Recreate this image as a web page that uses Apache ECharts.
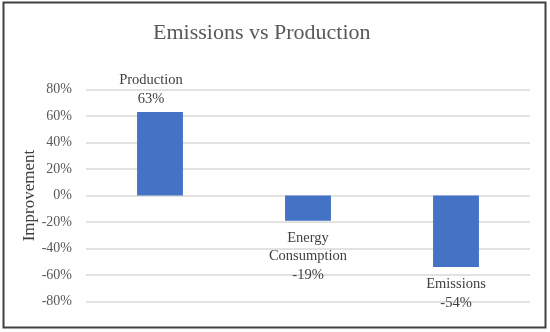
<!DOCTYPE html>
<html>
<head>
<meta charset="utf-8">
<script src="https://cdn.jsdelivr.net/npm/echarts@6/dist/echarts.min.js"></script>
<style>html,body{margin:0;padding:0;background:#fff}#c{width:550px;height:332px}</style>
</head>
<body>
<div id="c"></div>
<script>
const categories = ['Production', 'Energy Consumption', 'Emissions'];
const values = [63, -19, -54];
const yTicks = [-80, -60, -40, -20, 0, 20, 40, 60, 80];

const FONT = '"Liberation Serif", "DejaVu Serif", serif';
const chart = echarts.init(document.getElementById('c'), null, {renderer: 'canvas'});
chart.setOption({
  backgroundColor: '#fff',
  animation: false,
  title: {
    text: 'Emissions vs Production',
    left: 148,
    top: 17,
    textStyle: {fontFamily: FONT, fontSize: 22, fontWeight: 'normal', color: '#595959'}
  },
  graphic: [{
    type: 'rect',
    shape: {x: 3.5, y: 2.5, width: 542, height: 325},
    style: {fill: 'none', stroke: '#404040', lineWidth: 2},
    silent: true
  }],
  grid: {left: 86, right: 20, top: 89.5, bottom: 30.5},
  xAxis: {
    type: 'category',
    data: categories,
    axisLine: {show: false},
    axisTick: {show: false},
    axisLabel: {show: false}
  },
  yAxis: {
    type: 'value',
    min: yTicks[0],
    max: yTicks[yTicks.length - 1],
    interval: 20,
    name: 'Improvement',
    nameLocation: 'middle',
    nameRotate: 90,
    nameGap: 48,
    nameMoveOverlap: false,
    nameTextStyle: {fontFamily: FONT, fontSize: 17, color: '#404040'},
    axisLine: {show: false},
    axisTick: {show: false},
    axisLabel: {formatter: '{value}%', fontFamily: FONT, fontSize: 14, color: '#595959', margin: 14},
    splitLine: {lineStyle: {color: '#d9d9d9', width: 1.5}}
  },
  series: [{
    type: 'bar',
    barWidth: '31%',
    itemStyle: {color: '#4472c4'},
    data: values.map((v, i) => ({
      value: v,
      label: {
        position: v >= 0 ? 'top' : 'bottom',
        distance: v >= 0 ? 4 : 8,
        offset: i === 0 ? [-9, 0] : [0, 0]
      }
    })),
    label: {
      show: true,
      fontFamily: FONT,
      fontSize: 14.5,
      lineHeight: 18.5,
      color: '#404040',
      formatter: p => p.name.replace(' ', '\n') + '\n' + p.value + '%'
    }
  }]
});
</script>
</body>
</html>
